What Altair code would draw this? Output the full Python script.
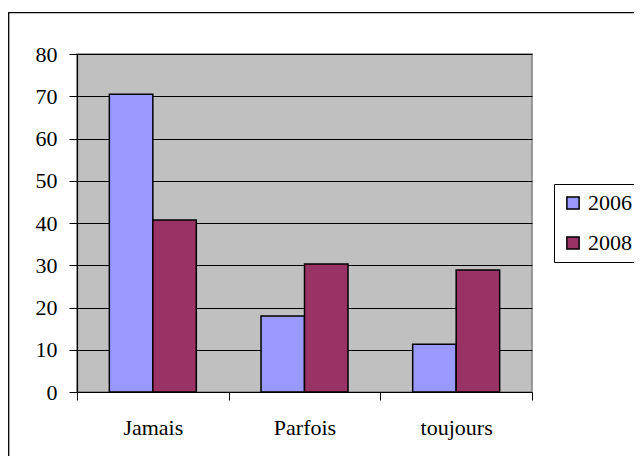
import altair as alt
import pandas as pd

categories = ["Jamais", "Parfois", "toujours"]
years = ["2006", "2008"]
values_2006 = [70.5, 18.0, 11.3]
values_2008 = [40.7, 30.3, 28.9]
colors = ["#9999FF", "#993366"]
y_ticks = [0, 10, 20, 30, 40, 50, 60, 70, 80]

rows = []
for c, a, b in zip(categories, values_2006, values_2008):
    rows.append({"cat": c, "year": years[0], "value": a})
    rows.append({"cat": c, "year": years[1], "value": b})
df = pd.DataFrame(rows)

FONT = "Liberation Serif"

bars = alt.Chart(df).mark_bar(stroke="black", strokeWidth=1.5).encode(
    x=alt.X("cat:N", sort=categories, title=None,
            scale=alt.Scale(paddingInner=0, paddingOuter=0),
            axis=alt.Axis(tickBand="extent", labelAngle=0, labelFont=FONT,
                          labelFontSize=22, labelColor="black", tickColor="black",
                          domainColor="black", tickSize=8, labelPadding=17,
                          grid=False, domainWidth=1.2)),
    xOffset=alt.XOffset("year:N", sort=years,
                        scale=alt.Scale(paddingInner=0, paddingOuter=0.744)),
    y=alt.Y("value:Q", title=None,
            scale=alt.Scale(domain=[0, 80], nice=False),
            axis=alt.Axis(values=y_ticks, labelFont=FONT, labelFontSize=22,
                          labelColor="black", tickColor="black", domainColor="black",
                          tickSize=8, labelPadding=12, grid=True, gridColor="black",
                          gridWidth=1, domainWidth=1.2)),
    color=alt.Color("year:N", sort=years,
                    scale=alt.Scale(domain=years, range=colors),
                    legend=alt.Legend(title=None, orient="none", legendX=477, legendY=130,
                                      symbolType="square", symbolSize=150,
                                      symbolStrokeColor="black", symbolStrokeWidth=1.5,
                                      labelFont=FONT, labelFontSize=22, labelColor="black",
                                      labelOffset=4, padding=8, rowPadding=18,
                                      strokeColor="black", fillColor="white")),
)

border = alt.Chart(alt.Data(values=[{}])).mark_rect(
    fill="transparent", stroke="black", strokeWidth=1.3
).encode(
    x=alt.value(-68.3), x2=alt.value(700),
    y=alt.value(-41.3), y2=alt.value(600),
)

chart = alt.layer(border, bars).properties(
    width=455, height=338,
    autosize=alt.AutoSizeParams(type="none"),
    padding={"left": 69, "top": 46, "right": 102, "bottom": 64},
    background="white",
).configure_view(
    fill="#C0C0C0", stroke="#808080", strokeWidth=1.5
)

chart.save("out.html", embed_options={"renderer": "svg", "actions": False})
